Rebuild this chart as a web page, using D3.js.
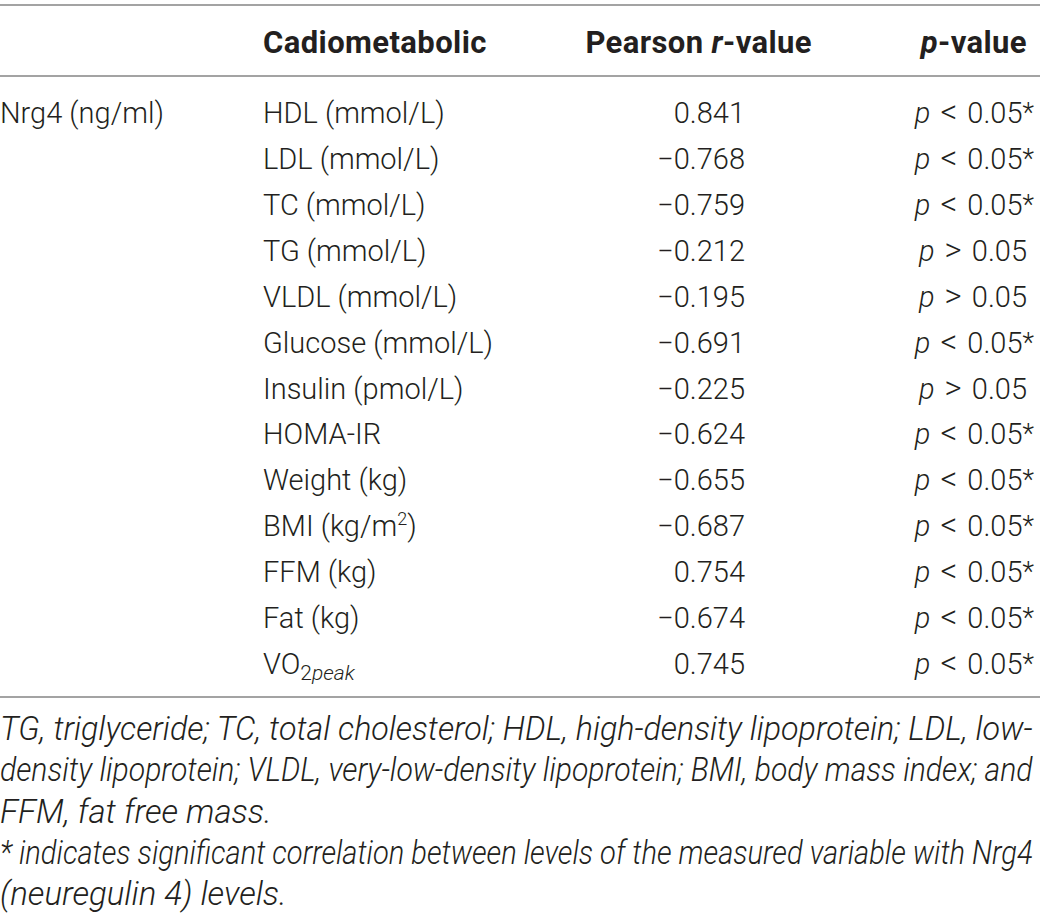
<!DOCTYPE html>
<html>
<head>
<meta charset="utf-8">
<script src="https://cdn.jsdelivr.net/npm/d3@7"></script>
<style>
  html, body { margin: 0; padding: 0; background: #fff; }
  svg text { font-family: Roboto, "Liberation Sans", sans-serif; fill: #231f20; }
</style>
</head>
<body>
<svg id="table"></svg>
<script>
// table content
const headers = ["Cadiometabolic", "Pearson r-value", "p-value"];
const rowGroup = "Nrg4 (ng/ml)";
const variables = ["HDL (mmol/L)", "LDL (mmol/L)", "TC (mmol/L)", "TG (mmol/L)", "VLDL (mmol/L)",
  "Glucose (mmol/L)", "Insulin (pmol/L)", "HOMA-IR", "Weight (kg)", "BMI (kg/m2)",
  "FFM (kg)", "Fat (kg)", "VO2peak"];
const rValues = [0.841, -0.768, -0.759, -0.212, -0.195, -0.691, -0.225, -0.624, -0.655, -0.687, 0.754, -0.674, 0.745];
const significant = [true, true, true, false, false, true, false, true, true, true, true, true, true];
const footnotes = [
  "TG, triglyceride; TC, total cholesterol; HDL, high-density lipoprotein; LDL, low-",
  "density lipoprotein; VLDL, very-low-density lipoprotein; BMI, body mass index; and",
  "FFM, fat free mass.",
  "* indicates significant correlation between levels of the measured variable with Nrg4",
  "(neuregulin 4) levels."
];
const justified = [true, true, false, true, false];

const width = 1040, height = 914;
const fontSize = 29;
const lineColor = "#a3a3a3";

const svg = d3.select("#table")
  .attr("width", width)
  .attr("height", height);

const y = d3.scalePoint().domain(variables).range([123, 674]);
const fmt = d3.format(".3f");

// rules
[5, 76, 697].forEach(ly => {
  svg.append("line")
    .attr("x1", 0).attr("x2", width)
    .attr("y1", ly).attr("y2", ly)
    .attr("stroke", lineColor)
    .attr("stroke-width", 2);
});

// header
const headY = 53;
const headSize = 31;
svg.append("text")
  .attr("x", 263).attr("y", headY)
  .attr("font-size", headSize).attr("font-weight", 700)
  .attr("letter-spacing", 0.4)
  .text(headers[0]);

const h2 = svg.append("text")
  .attr("x", 812).attr("y", headY)
  .attr("text-anchor", "end")
  .attr("font-size", headSize).attr("font-weight", 700)
  .attr("letter-spacing", 0.4);
h2.append("tspan").text("Pearson ");
h2.append("tspan").attr("font-style", "italic").text("r");
h2.append("tspan").text("-value");

const h3 = svg.append("text")
  .attr("x", 1027).attr("y", headY)
  .attr("text-anchor", "end")
  .attr("font-size", headSize).attr("font-weight", 700)
  .attr("letter-spacing", 0.4);
h3.append("tspan").attr("font-style", "italic").text("p");
h3.append("tspan").text("-value");

// first column
svg.append("text")
  .attr("x", 0).attr("y", y(variables[0]))
  .attr("font-size", fontSize).attr("font-weight", 300)
  .text(rowGroup);

// variable labels
const labels = svg.selectAll("text.var")
  .data(variables)
  .enter()
  .append("text")
  .attr("class", "var")
  .attr("x", 263)
  .attr("y", d => y(d))
  .attr("font-size", fontSize)
  .attr("font-weight", 300);

labels.each(function(d) {
  const t = d3.select(this);
  if (d === "BMI (kg/m2)") {
    t.append("tspan").text("BMI (kg/m");
    t.append("tspan").attr("font-size", 18).attr("dy", -11).text("2");
    t.append("tspan").attr("dy", 11).text(")");
  } else if (d === "VO2peak") {
    t.append("tspan").text("VO");
    t.append("tspan").attr("font-size", 21).attr("dy", 6).text("2");
    t.append("tspan").attr("font-size", 21).attr("font-style", "italic").text("peak");
  } else {
    t.text(d);
  }
});

// r values
svg.selectAll("text.r")
  .data(rValues)
  .enter()
  .append("text")
  .attr("class", "r")
  .attr("x", 745)
  .attr("y", (d, i) => y(variables[i]))
  .attr("text-anchor", "end")
  .attr("font-size", fontSize)
  .attr("font-weight", 300)
  .text(d => fmt(d));

// p values
const pv = svg.selectAll("text.p")
  .data(significant)
  .enter()
  .append("text")
  .attr("class", "p")
  .attr("x", d => d ? 1034 : 1027)
  .attr("y", (d, i) => y(variables[i]))
  .attr("text-anchor", "end")
  .attr("font-size", fontSize)
  .attr("font-weight", 300)
  .attr("word-spacing", 3);
pv.append("tspan").attr("font-style", "italic").text("p ");
pv.append("tspan").attr("font-size", 33).text(d => d ? "<" : ">");
pv.append("tspan").text(" 0.05");
pv.filter(d => d).append("tspan").attr("font-size", 27).attr("dy", -1).text("*");

// footnotes, justified like the journal layout
const footY = d3.scalePoint().domain(d3.range(footnotes.length)).range([740, 905]);
const target = 1033;
svg.selectAll("text.foot")
  .data(footnotes)
  .enter()
  .append("text")
  .attr("class", "foot")
  .attr("x", 0)
  .attr("y", (d, i) => footY(i))
  .attr("font-size", 33)
  .attr("font-weight", 300)
  .attr("font-style", "italic")
  .text(d => d)
  .each(function(d, i) {
    if (!justified[i]) return;
    const natural = this.getComputedTextLength();
    const spaces = d.split(" ").length - 1;
    if (natural < target) {
      d3.select(this).attr("word-spacing", (target - natural) / spaces);
    } else {
      // squeeze the line so it ends at the right margin
      const ty = footY(i);
      d3.select(this)
        .attr("y", 0)
        .attr("transform", `translate(0,${ty}) scale(${target / natural},1)`);
    }
  });
</script>
</body>
</html>
